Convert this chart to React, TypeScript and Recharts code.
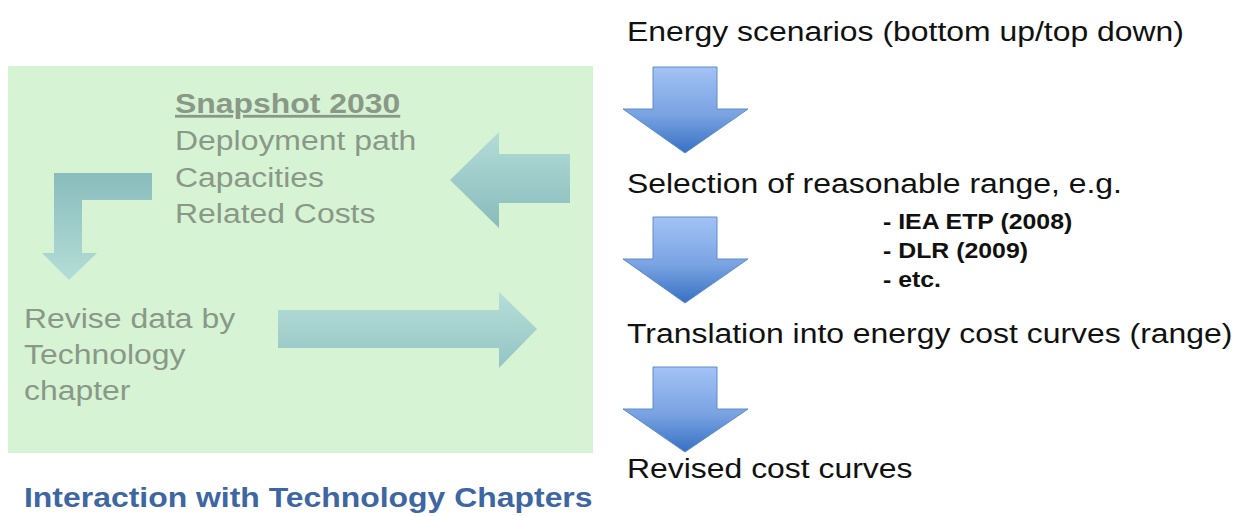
import React from "react";
import {
  ScatterChart,
  Scatter,
  XAxis,
  YAxis,
  ReferenceArea,
} from "recharts";

// Diagram is laid out in a 1238 x 516 coordinate space (x right, y down).
const W = 1238;
const H = 516;

// Green "technology chapters" panel
const PANEL = { x1: 8, x2: 593, y1: 66, y2: 453 };

// Blue downward flow arrows on the right: top of shaft, neck, tip
const FLOW_ARROWS = [
  { top: 67, neck: 109, tip: 153 },
  { top: 217, neck: 259, tip: 303 },
  { top: 367, neck: 409, tip: 452 },
];
const FLOW_SHAFT = [653, 717];
const FLOW_HEAD = [623, 748];
const FLOW_CENTER = 685;

// Teal arrows inside the panel (outline vertices)
const ELBOW_ARROW = [
  { x: 54, y: 173 }, { x: 152, y: 173 }, { x: 152, y: 200 }, { x: 82, y: 200 },
  { x: 82, y: 253 }, { x: 97, y: 253 }, { x: 69, y: 280 }, { x: 42, y: 253 },
  { x: 54, y: 253 },
];
const LEFT_ARROW = [
  { x: 570, y: 154 }, { x: 570, y: 203 }, { x: 499, y: 203 }, { x: 499, y: 228 },
  { x: 450, y: 180 }, { x: 499, y: 132 }, { x: 499, y: 154 },
];
const RIGHT_ARROW = [
  { x: 278, y: 310 }, { x: 499, y: 310 }, { x: 499, y: 292 }, { x: 537, y: 329 },
  { x: 499, y: 368 }, { x: 499, y: 348 }, { x: 278, y: 348 },
];

// Text (x = left edge, y = baseline)
const STEP_LABELS = [
  { x: 627, y: 41, text: "Energy scenarios (bottom up/top down)" },
  { x: 627, y: 193, text: "Selection of reasonable range, e.g." },
  { x: 627, y: 343, text: "Translation into energy cost curves (range)" },
  { x: 627, y: 478, text: "Revised cost curves" },
];
const SOURCE_LABELS = [
  { x: 883, y: 229, text: "- IEA ETP (2008)" },
  { x: 883, y: 258, text: "- DLR (2009)" },
  { x: 883, y: 287, text: "- etc." },
];
const SNAPSHOT_TITLE = [{ x: 175, y: 113, text: "Snapshot 2030" }];
const SNAPSHOT_LINES = [
  { x: 175, y: 150, text: "Deployment path" },
  { x: 175, y: 187, text: "Capacities" },
  { x: 175, y: 223, text: "Related Costs" },
];
const REVISE_LINES = [
  { x: 24, y: 328, text: "Revise data by" },
  { x: 24, y: 364, text: "Technology" },
  { x: 24, y: 400, text: "chapter" },
];
const CAPTION = [{ x: 24, y: 507, text: "Interaction with Technology Chapters" }];

const FONT = "'Liberation Sans', Arial, sans-serif";
const STRETCH = 1.14;

const flowPolygon = (a: { top: number; neck: number; tip: number }) => [
  { x: FLOW_SHAFT[0], y: a.top },
  { x: FLOW_SHAFT[1], y: a.top },
  { x: FLOW_SHAFT[1], y: a.neck },
  { x: FLOW_HEAD[1], y: a.neck },
  { x: FLOW_CENTER, y: a.tip },
  { x: FLOW_HEAD[0], y: a.neck },
  { x: FLOW_SHAFT[0], y: a.neck },
];

const noDot = () => <g />;

const polygonLine =
  (fill: string, stroke: string) =>
  (props: any) => {
    const pts: { x: number; y: number }[] = props.points || [];
    if (!pts.length) return <g />;
    const d =
      pts.map((p, i) => `${i === 0 ? "M" : "L"}${p.x},${p.y}`).join(" ") + " Z";
    return <path d={d} fill={fill} stroke={stroke} strokeWidth={1} />;
  };

const textShape =
  (opts: {
    size: number;
    color: string;
    weight?: number | string;
    stretch?: number;
    underline?: boolean;
  }) =>
  (props: any) => {
    const { cx, cy, payload } = props;
    return (
      <text
        transform={`translate(${cx},${cy}) scale(${opts.stretch ?? STRETCH},1)`}
        x={0}
        y={0}
        fontFamily={FONT}
        fontSize={opts.size}
        fontWeight={opts.weight ?? 400}
        fill={opts.color}
        style={opts.underline ? { textDecoration: "underline" } : undefined}
      >
        {payload.text}
      </text>
    );
  };

export default function App() {
  return (
    <div style={{ position: "absolute", left: 0, top: 0, background: "#fff" }}>
      <ScatterChart
        width={W}
        height={H}
        margin={{ top: 0, right: 0, bottom: 0, left: 0 }}
      >
        <defs>
          <linearGradient id="flowBlue" x1="0" y1="0" x2="0" y2="1">
            <stop offset="0%" stopColor="#a3c2f6" />
            <stop offset="55%" stopColor="#7aa3e2" />
            <stop offset="100%" stopColor="#3671c2" />
          </linearGradient>
          <linearGradient id="tealDown" x1="0" y1="0" x2="0" y2="1">
            <stop offset="0%" stopColor="#89bcbc" />
            <stop offset="100%" stopColor="#b4ddd8" />
          </linearGradient>
          <linearGradient id="tealUp" x1="0" y1="0" x2="0" y2="1">
            <stop offset="0%" stopColor="#b3dcd8" />
            <stop offset="100%" stopColor="#88bbbb" />
          </linearGradient>
          <linearGradient id="tealRight" x1="0" y1="0" x2="0" y2="1">
            <stop offset="0%" stopColor="#b6ded9" />
            <stop offset="100%" stopColor="#94c4c3" />
          </linearGradient>
        </defs>

        <XAxis type="number" dataKey="x" domain={[0, W]} hide />
        <YAxis type="number" dataKey="y" domain={[0, H]} reversed hide />

        <ReferenceArea
          x1={PANEL.x1}
          x2={PANEL.x2}
          y1={PANEL.y1}
          y2={PANEL.y2}
          fill="#d6f4d4"
          fillOpacity={1}
          stroke="none"
        />

        <Scatter
          data={ELBOW_ARROW}
          shape={noDot}
          line={polygonLine("url(#tealDown)", "none")}
          isAnimationActive={false}
        />
        <Scatter
          data={LEFT_ARROW}
          shape={noDot}
          line={polygonLine("url(#tealUp)", "none")}
          isAnimationActive={false}
        />
        <Scatter
          data={RIGHT_ARROW}
          shape={noDot}
          line={polygonLine("url(#tealRight)", "none")}
          isAnimationActive={false}
        />

        {FLOW_ARROWS.map((a, i) => (
          <Scatter
            key={`flow-${i}`}
            data={flowPolygon(a)}
            shape={noDot}
            line={polygonLine("url(#flowBlue)", "#5f8ccc")}
            isAnimationActive={false}
          />
        ))}

        <Scatter
          data={STEP_LABELS}
          shape={textShape({ size: 28, color: "#111111" })}
          isAnimationActive={false}
        />
        <Scatter
          data={SOURCE_LABELS}
          shape={textShape({ size: 22, color: "#111111", weight: 700, stretch: 1.13 })}
          isAnimationActive={false}
        />
        <Scatter
          data={SNAPSHOT_TITLE}
          shape={textShape({ size: 28, color: "#8a9888", weight: 700, underline: true })}
          isAnimationActive={false}
        />
        <Scatter
          data={SNAPSHOT_LINES}
          shape={textShape({ size: 28, color: "#8a9888" })}
          isAnimationActive={false}
        />
        <Scatter
          data={REVISE_LINES}
          shape={textShape({ size: 28, color: "#8a9888" })}
          isAnimationActive={false}
        />
        <Scatter
          data={CAPTION}
          shape={textShape({ size: 28, color: "#3d66a2", weight: 700 })}
          isAnimationActive={false}
        />
      </ScatterChart>
    </div>
  );
}
